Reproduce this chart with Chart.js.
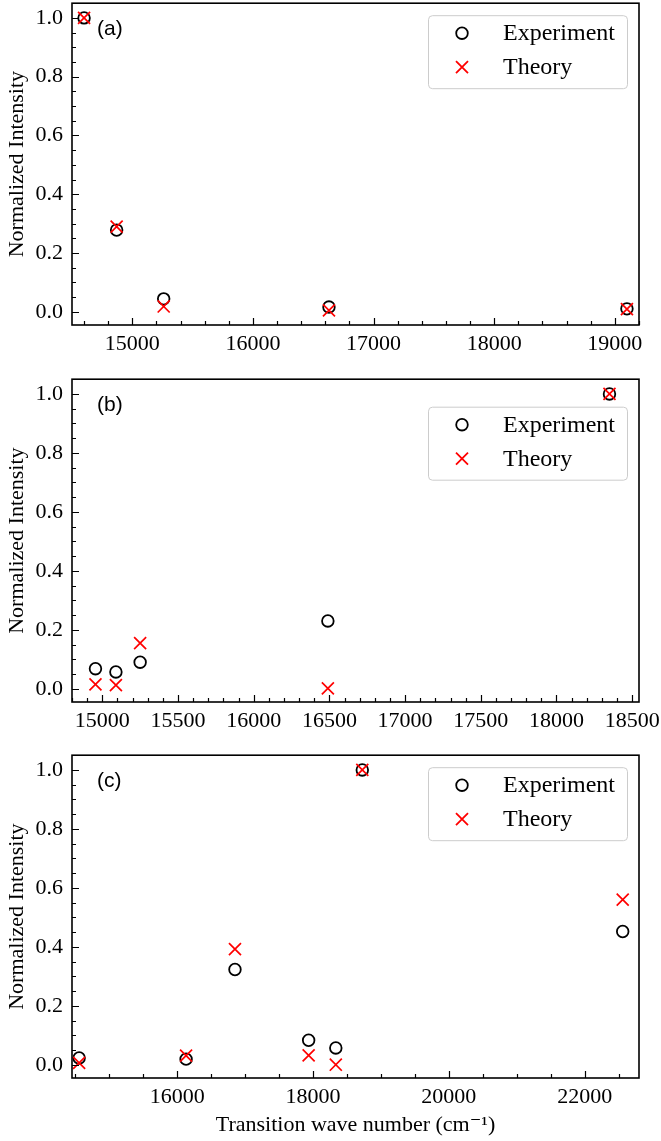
<!DOCTYPE html>
<html>
<head>
<meta charset="utf-8">
<script src="https://cdn.jsdelivr.net/npm/chart.js@4.4.1/dist/chart.umd.min.js"></script>
<style>
    body { margin: 0; background: #fff; }
    #wrap { position: relative; width: 661px; height: 1141px; background: #fff; overflow: hidden; }
    canvas { position: absolute; left: 0; }
</style>
</head>
<body>
<div id="wrap">
    <canvas id="panelA" width="661" height="367" style="top:-7px"></canvas>
    <canvas id="panelB" width="661" height="367" style="top:369px"></canvas>
    <canvas id="panelC" width="661" height="396" style="top:745px"></canvas>
</div>
<script>
// tick labels
const yTicks = [0.0, 0.2, 0.4, 0.6, 0.8, 1.0];
const xTicksA = [15000, 16000, 17000, 18000, 19000];
const xTicksB = [15000, 15500, 16000, 16500, 17000, 17500, 18000, 18500];
const xTicksC = [16000, 18000, 20000, 22000];

// panel (a)
const waveA = [14600, 14870, 15260, 16630, 19100];
const expA = [1.0, 0.278, 0.044, 0.016, 0.010];
const theoryA = [1.0, 0.290, 0.018, 0.005, 0.009];

// panel (b)
const waveB = [14955, 15090, 15250, 16490, 18350];
const expB = [0.068, 0.057, 0.090, 0.230, 1.0];
const theoryB = [0.015, 0.012, 0.155, 0.001, 1.0];

// panel (c)
const waveC = [14555, 16130, 16850, 17935, 18335, 18725, 22560];
const expC = [0.023, 0.019, 0.323, 0.083, 0.057, 1.0, 0.452];
const theoryC = [0.006, 0.031, 0.392, 0.032, 0.0, 1.0, 0.560];

const seriesNames = ["Experiment", "Theory"];
const yTitle = "Normalized Intensity";
const xTitle = "Transition wave number (cm\u207B\u00B9)";

const SERIF = "'Liberation Serif', 'DejaVu Serif', serif";

Chart.defaults.color = "#000";

// border, inward ticks, panel tag and legend box
const framePlugin = {
    id: "frame",
    afterDraw(chart) {
        const ctx = chart.ctx;
        const area = chart.chartArea;
        const o = chart.options.plugins.frame;
        const xs = chart.scales.x;
        const ys = chart.scales.y;

        ctx.save();
        ctx.strokeStyle = "#000";
        ctx.lineWidth = 1.2;
        ctx.beginPath();
        // x ticks
        for (let v = Math.ceil(xs.min / o.xMinor) * o.xMinor; v <= xs.max; v += o.xMinor) {
            const px = Math.round(xs.getPixelForValue(v)) + 0.5;
            const major = o.xMajor.includes(v);
            ctx.moveTo(px, area.bottom);
            ctx.lineTo(px, area.bottom - (major ? 7 : 4));
        }
        // y ticks
        for (let i = -1; i <= 21; i++) {
            const v = i * 0.05;
            if (v < ys.min || v > ys.max) continue;
            const py = Math.round(ys.getPixelForValue(v)) + 0.5;
            const major = i % 4 === 0;
            ctx.moveTo(area.left, py);
            ctx.lineTo(area.left + (major ? 7 : 4), py);
        }
        ctx.stroke();

        ctx.lineWidth = 1.6;
        ctx.strokeRect(area.left, area.top, area.right - area.left, area.bottom - area.top);

        // panel tag
        ctx.fillStyle = "#000";
        ctx.font = "21px 'Liberation Sans', Arial, sans-serif";
        ctx.textBaseline = "middle";
        ctx.textAlign = "left";
        ctx.fillText(o.tag, area.left + 25, area.top + 26);

        // legend
        const bw = 199, bh = 73;
        const bx = area.right - 12 - bw;
        const by = area.top + o.legendTop;
        ctx.beginPath();
        ctx.roundRect(bx + 0.5, by + 0.5, bw, bh, 4);
        ctx.fillStyle = "rgba(255,255,255,0.8)";
        ctx.fill();
        ctx.strokeStyle = "#cccccc";
        ctx.lineWidth = 1;
        ctx.stroke();

        const mx = bx + 34;
        ctx.lineWidth = 1.8;
        ctx.strokeStyle = "#000";
        ctx.beginPath();
        ctx.arc(mx, by + 18, 5.8, 0, Math.PI * 2);
        ctx.stroke();
        ctx.strokeStyle = "#ff0000";
        ctx.beginPath();
        ctx.moveTo(mx - 6, by + 52 - 6);
        ctx.lineTo(mx + 6, by + 52 + 6);
        ctx.moveTo(mx + 6, by + 52 - 6);
        ctx.lineTo(mx - 6, by + 52 + 6);
        ctx.stroke();

        ctx.fillStyle = "#000";
        ctx.font = "24px " + SERIF;
        ctx.fillText(seriesNames[0], bx + 75, by + 19);
        ctx.fillText(seriesNames[1], bx + 75, by + 53);
        ctx.restore();
    }
};

function makePanel(id, opts) {
    const ctx = document.getElementById(id).getContext("2d");
    const tickFont = { family: SERIF, size: 22 };

    return new Chart(ctx, {
        type: "scatter",
        data: {
            datasets: [
                {
                    label: seriesNames[0],
                    data: opts.wave.map((x, i) => ({ x: x, y: opts.exp[i] })),
                    pointStyle: "circle",
                    pointRadius: 5.8,
                    borderWidth: 1.8,
                    borderColor: "#000",
                    backgroundColor: "rgba(0,0,0,0)",
                    clip: false,
                    order: 1
                },
                {
                    label: seriesNames[1],
                    data: opts.wave.map((x, i) => ({ x: x, y: opts.theory[i] })),
                    pointStyle: "crossRot",
                    pointRadius: 8.5,
                    borderWidth: 1.7,
                    borderColor: "#ff0000",
                    backgroundColor: "#ff0000",
                    clip: false,
                    order: 0
                }
            ]
        },
        options: {
            responsive: false,
            animation: false,
            devicePixelRatio: 1,
            events: [],
            layout: { padding: { top: opts.padTop, right: 22, left: 0, bottom: 0 } },
            plugins: {
                legend: { display: false },
                tooltip: { enabled: false },
                frame: { tag: opts.tag, legendTop: opts.legendTop, xMinor: opts.xMinor, xMajor: opts.xTicks }
            },
            scales: {
                x: {
                    type: "linear",
                    min: opts.xMin,
                    max: opts.xMax,
                    grid: { display: false, drawTicks: false },
                    border: { display: false },
                    ticks: { font: tickFont, padding: 6, maxRotation: 0, autoSkip: false, callback: v => String(v) },
                    title: {
                        display: !!opts.xTitle,
                        text: xTitle,
                        font: { family: SERIF, size: 22 },
                        padding: { top: 0, bottom: 3 }
                    },
                    afterBuildTicks: scale => { scale.ticks = opts.xTicks.map(v => ({ value: v })); },
                    afterFit: scale => {
                        scale.height = opts.xHeight;
                        scale.paddingLeft = 0;
                        scale.paddingRight = 0;
                    }
                },
                y: {
                    min: -0.045,
                    max: 1.05,
                    grid: { display: false, drawTicks: false },
                    border: { display: false },
                    ticks: { font: tickFont, padding: 9, callback: v => v.toFixed(1) },
                    title: {
                        display: true,
                        text: yTitle,
                        font: { family: SERIF, size: 22 },
                        padding: { top: 4, bottom: 0 }
                    },
                    afterBuildTicks: scale => { scale.ticks = yTicks.map(v => ({ value: v })); },
                    afterFit: scale => {
                        scale.width = 72;
                        scale.paddingTop = 0;
                        scale.paddingBottom = 0;
                    }
                }
            }
        },
        plugins: [framePlugin]
    });
}

makePanel("panelA", {
    tag: "(a)", wave: waveA, exp: expA, theory: theoryA,
    xMin: 14500, xMax: 19200, xTicks: xTicksA, xMinor: 200,
    padTop: 3, xHeight: 35, legendTop: 12
});

makePanel("panelB", {
    tag: "(b)", wave: waveB, exp: expB, theory: theoryB,
    xMin: 14800, xMax: 18545, xTicks: xTicksB, xMinor: 100,
    padTop: 3.5, xHeight: 34, legendTop: 27.5
});

makePanel("panelC", {
    tag: "(c)", wave: waveC, exp: expC, theory: theoryC,
    xMin: 14450, xMax: 22800, xTicks: xTicksC, xMinor: 500,
    padTop: 3, xHeight: 63, legendTop: 12, xTitle: true
});
</script>
</body>
</html>
